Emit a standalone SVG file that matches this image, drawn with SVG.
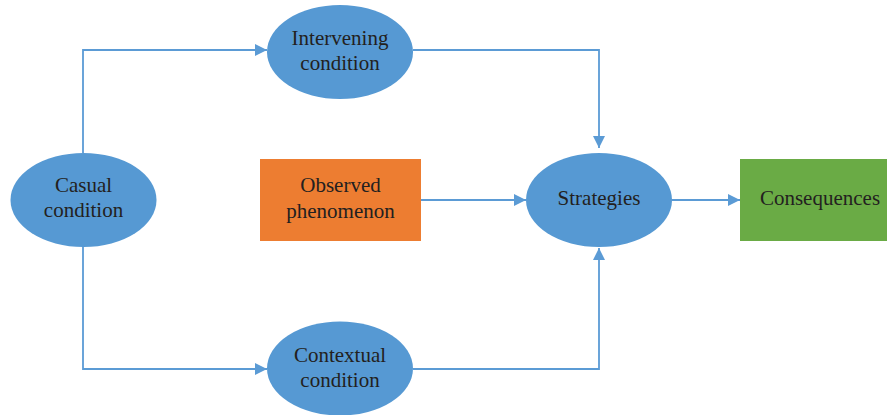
<svg xmlns="http://www.w3.org/2000/svg" width="887" height="415" viewBox="0 0 887 415">
<style>
.ell{fill:#5699D3;}
.t{font-family:"Liberation Serif","Times New Roman",serif;font-size:21px;fill:#231F20;text-anchor:middle;}
.c{fill:none;stroke:#5B9BD5;stroke-width:1.8;}
</style>
<defs>
<marker id="ah" viewBox="0 0 12 12" refX="12" refY="6" markerWidth="12" markerHeight="12" markerUnits="userSpaceOnUse" orient="auto">
<path d="M0,0 L12,6 L0,12 Z" fill="#5B9BD5"/>
</marker>
</defs>
<rect width="887" height="415" fill="#ffffff"/>
<g id="connectors">
<path class="c" d="M83,153 V50 H267" marker-end="url(#ah)"/>
<path class="c" d="M83,247 V369 H267" marker-end="url(#ah)"/>
<path class="c" d="M413,50 H599 V148" marker-end="url(#ah)"/>
<path class="c" d="M413,369 H599 V248" marker-end="url(#ah)"/>
<path class="c" d="M421,200 H526" marker-end="url(#ah)"/>
<path class="c" d="M672,200 H740" marker-end="url(#ah)"/>
</g>
<g id="casual">
<ellipse class="ell" cx="83.5" cy="200" rx="73" ry="47"/>
<text class="t" x="83.5" y="192">Casual</text>
<text class="t" x="83.5" y="217">condition</text>
</g>
<g id="intervening">
<ellipse class="ell" cx="340" cy="52" rx="73" ry="47"/>
<text class="t" x="340" y="45">Intervening</text>
<text class="t" x="340" y="70">condition</text>
</g>
<g id="observed">
<rect x="260" y="159" width="161" height="82" fill="#ED7D31"/>
<text class="t" x="340.5" y="192">Observed</text>
<text class="t" x="340.5" y="218">phenomenon</text>
</g>
<g id="strategies">
<ellipse class="ell" cx="599" cy="200" rx="73" ry="47"/>
<text class="t" x="599" y="205">Strategies</text>
</g>
<g id="consequences">
<rect x="740" y="159" width="147" height="82" fill="#6AAB45"/>
<text class="t" x="820" y="205">Consequences</text>
</g>
<g id="contextual">
<ellipse class="ell" cx="340" cy="368.5" rx="73" ry="47"/>
<text class="t" x="340" y="362">Contextual</text>
<text class="t" x="340" y="387">condition</text>
</g>
</svg>
